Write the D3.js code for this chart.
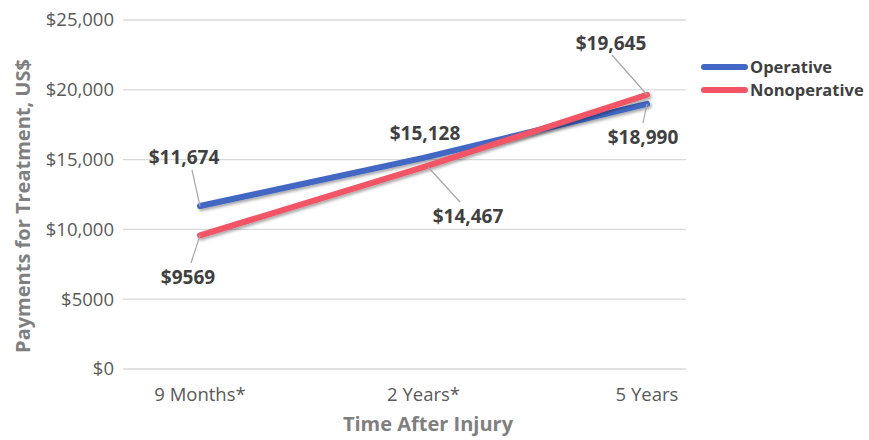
<!DOCTYPE html>
<html><head><meta charset="utf-8">
<script src="https://cdn.jsdelivr.net/npm/d3@7"></script>
<style>body{margin:0;background:#fff}svg{display:block}</style>
</head><body>
<svg id="c" width="869" height="440"></svg>
<script>
const categories = ["9 Months*", "2 Years*", "5 Years"];
const operative = [11674, 15128, 18990];
const nonoperative = [9569, 14467, 19645];
const yTicks = [0, 5000, 10000, 15000, 20000, 25000];
const seriesNames = ["Operative", "Nonoperative"];
const colors = ["#4267c4", "#f25465"];

const svg = d3.select("#c");
const font = "'Open Sans', sans-serif";
const gridL = 123, gridR = 686;
const x = d3.scalePoint().domain(categories).range([200, 647]);
const y = d3.scaleLinear().domain([0, 25000]).range([369, 20]);

const fmt = v => v >= 10000 ? "$" + d3.format(",")(v) : "$" + v;

// gridlines
svg.append("g").selectAll("line").data(yTicks).join("line")
  .attr("x1", gridL).attr("x2", gridR)
  .attr("y1", d => y(d)).attr("y2", d => y(d))
  .attr("stroke", "#d9d9d9").attr("stroke-width", 1.3);

// y tick labels
svg.append("g").selectAll("text").data(yTicks).join("text")
  .attr("x", 114).attr("y", d => y(d)).attr("dy", "0.35em")
  .attr("text-anchor", "end").attr("font-family", font).attr("font-size", 18.5)
  .attr("fill", "#595959").text(fmt);

// x tick labels
svg.append("g").selectAll("text").data(categories).join("text")
  .attr("x", d => x(d)).attr("y", 401)
  .attr("text-anchor", "middle").attr("font-family", font).attr("font-size", 18.5)
  .attr("fill", "#595959").text(d => d);

// axis titles
svg.append("text").attr("x", 428).attr("y", 431).attr("text-anchor", "middle")
  .attr("font-family", font).attr("font-size", 20).attr("font-weight", "bold")
  .attr("fill", "#7f7f7f").text("Time After Injury");
svg.append("text").attr("transform", "translate(30,206) rotate(-90)").attr("text-anchor", "middle")
  .attr("font-family", font).attr("font-size", 20).attr("font-weight", "bold")
  .attr("fill", "#7f7f7f").text("Payments for Treatment, US$");

// shadow filter
const defs = svg.append("defs");
const f = defs.append("filter").attr("id", "sh").attr("x", "-10%").attr("y", "-50%").attr("width", "120%").attr("height", "200%");
f.append("feDropShadow").attr("dx", 1.5).attr("dy", 2).attr("stdDeviation", 1.5)
  .attr("flood-color", "#000").attr("flood-opacity", 0.35);

const line = d3.line().x((d, i) => x(categories[i])).y(d => y(d));
const seriesData = [operative, nonoperative];
seriesData.forEach((s, k) => {
  svg.append("path").datum(s).attr("d", line).attr("fill", "none")
    .attr("stroke", colors[k]).attr("stroke-width", 6).attr("stroke-linecap", "round")
    .attr("filter", "url(#sh)");
});

// leader lines and data labels
const labels = [
  {s: 0, i: 0, tx: 184, ty: 157, lx: 192, ly: 170},
  {s: 1, i: 0, tx: 188, ty: 277, lx: 191, ly: 263},
  {s: 0, i: 1, tx: 425, ty: 133, lx: null},
  {s: 1, i: 1, tx: 468, ty: 216, lx: 460, ly: 202},
  {s: 1, i: 2, tx: 611, ty: 43, lx: 612, ly: 55},
  {s: 0, i: 2, tx: 643, ty: 137, lx: 643, ly: 123}
];
labels.forEach(l => {
  const v = seriesData[l.s][l.i];
  if (l.lx !== null) {
    let px = x(categories[l.i]), py = y(v);
    if (l.s === 1 && l.i === 1) { px = 428; py = 167; }
    svg.append("line").attr("x1", l.lx).attr("y1", l.ly).attr("x2", px).attr("y2", py)
      .attr("stroke", "#a6a6a6").attr("stroke-width", 1.2);
  }
  svg.append("text").attr("x", l.tx).attr("y", l.ty).attr("dy", "0.35em")
    .attr("text-anchor", "middle").attr("font-family", font).attr("font-size", 19)
    .attr("font-weight", "bold").attr("fill", "#404040").text(fmt(v));
});

// legend
const lg = svg.append("g").selectAll("g").data(seriesNames).join("g")
  .attr("transform", (d, i) => `translate(704,${67 + i * 23})`);
lg.append("line").attr("x1", 0).attr("x2", 41).attr("stroke", (d, i) => colors[i])
  .attr("stroke-width", 6).attr("stroke-linecap", "round");
lg.append("text").attr("x", 46).attr("dy", "0.35em").attr("font-family", font)
  .attr("font-size", 16.5).attr("font-weight", "bold").attr("fill", "#404040").text(d => d);
</script>
</body></html>
